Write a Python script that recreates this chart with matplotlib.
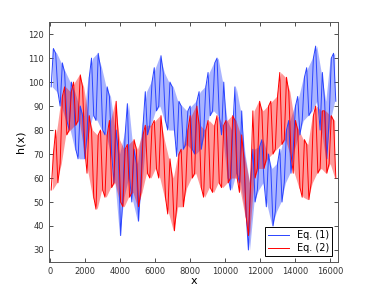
import matplotlib
matplotlib.use("Agg")
import matplotlib.pyplot as plt
import numpy as np

# envelope of each series, read per bin of 256 samples (low, high)
bin_width = 256
eq1_low = [98, 96, 90, 84, 80, 72, 68, 68, 78, 86, 84, 80, 78, 70, 58, 36,
           52, 60, 50, 42, 58, 78, 82, 88, 90, 84, 80, 80, 69, 72, 74, 72,
           70, 72, 78, 86, 88, 86, 78, 60, 55, 62, 58, 45, 30, 50, 55, 58,
           48, 40, 46, 50, 58, 62, 72, 78, 84, 86, 88, 92, 80, 68, 84, 92]
eq1_high = [114, 112, 108, 104, 100, 96, 90, 86, 102, 110, 112, 106, 98, 94, 80, 70,
            78, 91, 72, 66, 82, 96, 100, 106, 111, 104, 100, 98, 92, 90, 88, 90,
            92, 96, 98, 104, 108, 110, 100, 84, 80, 98, 88, 70, 58, 72, 73, 76,
            70, 64, 66, 72, 80, 84, 90, 94, 102, 106, 110, 115, 104, 92, 110, 112]
eq2_low = [55, 58, 66, 78, 80, 82, 84, 72, 62, 52, 47, 55, 52, 56, 58, 50,
           48, 52, 54, 48, 54, 62, 60, 64, 60, 52, 45, 38, 48, 48, 56, 60,
           62, 56, 52, 56, 54, 58, 56, 58, 60, 60, 54, 44, 36, 60, 64, 64,
           68, 70, 72, 74, 76, 70, 62, 56, 52, 51, 58, 62, 64, 62, 66, 60]
eq2_high = [70, 80, 94, 98, 96, 100, 103, 98, 86, 80, 78, 80, 78, 84, 92, 76,
            72, 74, 76, 72, 78, 82, 82, 84, 86, 76, 68, 60, 70, 72, 80, 86,
            90, 82, 80, 84, 82, 86, 82, 84, 86, 84, 78, 68, 58, 88, 92, 88,
            90, 92, 94, 104, 102, 96, 84, 80, 76, 74, 86, 90, 88, 88, 86, 84]


def zigzag(low, high):
    xs, ys = [], []
    for i, (lo, hi) in enumerate(zip(low, high)):
        xs += [i * bin_width + 64, i * bin_width + 192]
        ys += [lo, hi] if i % 2 == 0 else [hi, lo]
    return xs, ys


fig = plt.figure(figsize=(3.74, 2.95), dpi=100)
ax = fig.add_axes([0.131, 0.112, 0.773, 0.813])

centers = np.arange(len(eq1_low)) * bin_width + bin_width / 2
blue = "#2a44ff"
red = "#ff0000"

x1, y1 = zigzag(eq1_low, eq1_high)
x2, y2 = zigzag(eq2_low, eq2_high)
ax.fill_between(centers, eq1_low, eq1_high, color=blue, alpha=0.4, lw=0)
ax.plot(x1, y1, color=blue, lw=0.7, label="Eq. (1)")
ax.fill_between(centers, eq2_low, eq2_high, color=red, alpha=0.4, lw=0)
ax.plot(x2, y2, color=red, lw=0.7, label="Eq. (2)")

ax.set_xlim(-60, 16450)
ax.set_ylim(25, 125)
ax.set_xticks(range(0, 16001, 2000))
ax.set_yticks(range(30, 121, 10))
ax.tick_params(direction="in", top=True, right=True, labelsize=6, length=3,
               colors="#333333", width=0.6)
for s in ax.spines.values():
    s.set_color("#555555")
    s.set_linewidth(0.7)
ax.set_xlabel("x", fontsize=8, labelpad=0)
ax.set_ylabel("h(x)", fontsize=8, labelpad=2)

leg = ax.legend(loc="lower right", fontsize=7, fancybox=False, framealpha=1,
                edgecolor="black", borderaxespad=0.6, handlelength=2.2,
                borderpad=0.3, labelspacing=0.3)
leg.get_frame().set_linewidth(0.7)

fig.savefig("out.png", dpi=100, facecolor="white")
